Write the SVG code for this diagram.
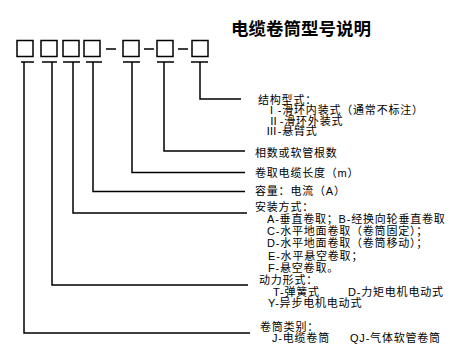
<svg xmlns="http://www.w3.org/2000/svg" width="450" height="350" viewBox="0 0 450 350">
<style>
.bg{fill:#fff}
.box{fill:none;stroke:#000;stroke-width:1.5}
.ln{fill:none;stroke:#000;stroke-width:1.5}
.t{font-family:"Liberation Sans","Noto Sans CJK SC",sans-serif;font-size:11px;letter-spacing:0.8px;fill:#000}
.title{font-family:"Noto Sans CJK SC","Noto Sans",sans-serif;font-size:17.5px;font-weight:bold;fill:#000}
</style>
<rect class="bg" x="0" y="0" width="450" height="350"/>
<g id="title"><text class="title" x="231" y="35">电缆卷筒型号说明</text></g>
<g id="code">
<rect class="box" x="17" y="40.5" width="16" height="16"/>
<rect class="box" x="41" y="40.5" width="16" height="16"/>
<rect class="box" x="63" y="40.5" width="16" height="16"/>
<rect class="box" x="84" y="40.5" width="16" height="16"/>
<rect class="box" x="123" y="40.5" width="16" height="16"/>
<rect class="box" x="157" y="40.5" width="16" height="16"/>
<rect class="box" x="192" y="40.5" width="16" height="16"/>
<path class="ln" d="M106 49H116M144 49H154M178 49H188"/>
</g>
<g id="connectors">
<path class="ln" d="M21 62H34M42 62H57M63 62H80M86 62H102M123 62H140M157 62H174M191 62H208"/>
<polyline class="ln" points="200,62 200,99 241,99"/>
<polyline class="ln" points="164,62 164,151 245,151"/>
<polyline class="ln" points="132,62 132,172.5 245,172.5"/>
<polyline class="ln" points="93,62 93,191.5 245,191.5"/>
<polyline class="ln" points="73,62 73,213 247,213"/>
<polyline class="ln" points="52,62 52,285 248,285"/>
<polyline class="ln" points="24,62 24,333 250,333"/>
</g>
<g id="structure">
<text class="t"><tspan x="258" y="103.5">结构型式：</tspan><tspan x="266" y="114">Ⅰ-滑环内装式（通常不标注）</tspan><tspan x="268" y="124.5">Ⅱ-滑环外装式</tspan><tspan x="266" y="135">Ⅲ-悬臂式</tspan></text>
</g>
<g id="phases"><text class="t" x="255" y="156.5">相数或软管根数</text></g>
<g id="length"><text class="t" x="255" y="176.5">卷取电缆长度（m）</text></g>
<g id="capacity"><text class="t" x="255" y="195">容量：电流（A）</text></g>
<g id="install">
<text class="t"><tspan x="255" y="211">安装方式：</tspan><tspan x="267" y="223">A-垂直卷取；B-经换向轮垂直卷取</tspan><tspan x="267" y="235">C-水平地面卷取（卷筒固定）；</tspan><tspan x="267" y="247">D-水平地面卷取（卷筒移动）；</tspan><tspan x="268" y="259.5">E-水平悬空卷取；</tspan><tspan x="268" y="271.5">F-悬空卷取。</tspan></text>
</g>
<g id="power">
<text class="t"><tspan x="259" y="284">动力形式：</tspan><tspan x="273" y="295.5">T-弹簧式</tspan><tspan x="348" y="295.5">D-力矩电机电动式</tspan><tspan x="268" y="307">Y-异步电机电动式</tspan></text>
</g>
<g id="type">
<text class="t"><tspan x="260" y="330.5">卷筒类别：</tspan><tspan x="272" y="342">J-电缆卷筒</tspan><tspan x="350" y="342">QJ-气体软管卷筒</tspan></text>
</g>
</svg>
